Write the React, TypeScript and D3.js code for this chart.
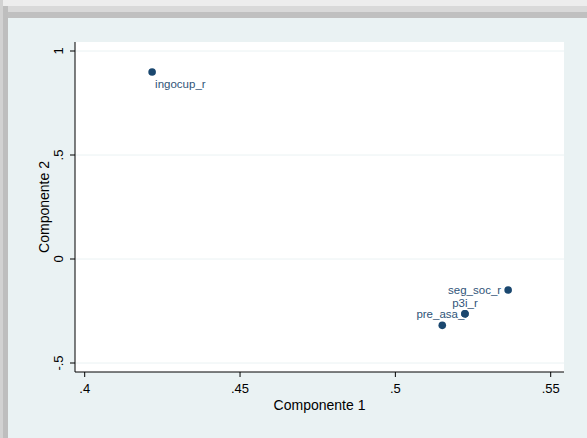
import React from 'react';
import * as d3 from 'd3';

const labels = ['ingocup_r', 'seg_soc_r', 'p3i_r', 'pre_asa_r'];
const comp1 = [0.4217, 0.5363, 0.5224, 0.5151];
const comp2 = [0.899, -0.149, -0.263, -0.319];
// clock position of each marker label (Stata style)
const labelPos = [5, 9, 12, 12];

const xTicks = [0.4, 0.45, 0.5, 0.55];
const yTicks = [-0.5, 0, 0.5, 1];

const W = 587;
const H = 438;
const plot = { left: 75, right: 564, top: 42, bottom: 372 };

const fmt = (v: number) => {
  if (v === 0) return '0';
  const s = String(v);
  return s.replace(/^(-?)0\./, '$1.');
};

const labelOffset = (pos: number) => {
  switch (pos) {
    case 5: return { dx: 3, dy: 16, anchor: 'start' };
    case 9: return { dx: -7, dy: 4, anchor: 'end' };
    case 12: return { dx: 0, dy: -7, anchor: 'middle' };
    default: return { dx: 6, dy: 4, anchor: 'start' };
  }
};

const App: React.FC = () => {
  const x = d3.scaleLinear().domain([0.4, 0.55]).range([84.7, 550.7]);
  const y = d3.scaleLinear().domain([-0.5, 1]).range([363, 51]);
  const font = '"Liberation Sans", Arial, sans-serif';

  return (
    <div style={{ position: 'fixed', left: 0, top: 0 }}>
      <svg width={W} height={H} style={{ display: 'block', fontFamily: font }}>
        <rect x={0} y={0} width={W} height={H} fill="#eaf2f3" />
        {/* shadow frame top / left */}
        <rect x={0} y={0} width={W} height={6} fill="#ededed" />
        <rect x={0} y={6} width={W} height={6} fill="#d9d9d9" />
        <rect x={0} y={12} width={W} height={6} fill="#c0c0c0" />
        <rect x={0} y={0} width={3} height={H} fill="#d2d2d2" />
        <rect x={3} y={6} width={5} height={H} fill="#bebebe" />

        <rect x={plot.left} y={plot.top} width={plot.right - plot.left} height={plot.bottom - plot.top} fill="#ffffff" />

        {yTicks.map(t => (
          <line key={'g' + t} x1={plot.left} x2={plot.right} y1={y(t)} y2={y(t)} stroke="#eaf2f3" strokeWidth={1} />
        ))}

        <line x1={plot.left} x2={plot.left} y1={plot.top} y2={plot.bottom} stroke="#000" strokeWidth={1} />
        <line x1={plot.left} x2={plot.right} y1={plot.bottom} y2={plot.bottom} stroke="#000" strokeWidth={1} />

        {xTicks.map(t => (
          <g key={'x' + t}>
            <line x1={x(t)} x2={x(t)} y1={plot.bottom} y2={plot.bottom + 5} stroke="#000" />
            <text x={x(t)} y={393} textAnchor="middle" fontSize={13} fill="#000">{fmt(t)}</text>
          </g>
        ))}
        {yTicks.map(t => (
          <g key={'y' + t}>
            <line x1={plot.left - 5} x2={plot.left} y1={y(t)} y2={y(t)} stroke="#000" />
            <text transform={`translate(63,${y(t)}) rotate(-90)`} textAnchor="middle" fontSize={13} fill="#000">{fmt(t)}</text>
          </g>
        ))}

        <text x={(plot.left + plot.right) / 2} y={410} textAnchor="middle" fontSize={14} fill="#000">Componente 1</text>
        <text transform={`translate(49,${(plot.top + plot.bottom) / 2}) rotate(-90)`} textAnchor="middle" fontSize={14} fill="#000">Componente 2</text>

        {labels.map((l, i) => (
          <circle key={'c' + l} cx={x(comp1[i])} cy={y(comp2[i])} r={3.8} fill="#1a476f" />
        ))}
        {labels.map((l, i) => {
          const o = labelOffset(labelPos[i]);
          return (
            <text key={'t' + l} x={x(comp1[i]) + o.dx} y={y(comp2[i]) + o.dy} textAnchor={o.anchor as any} fontSize={11.5} fill="#2f5478">{l}</text>
          );
        })}
        {/* p3i_r marker drawn over the pre_asa_r label, as in the original */}
        <circle cx={x(comp1[2])} cy={y(comp2[2])} r={3.8} fill="#1a476f" />
      </svg>
    </div>
  );
};

export default App;
